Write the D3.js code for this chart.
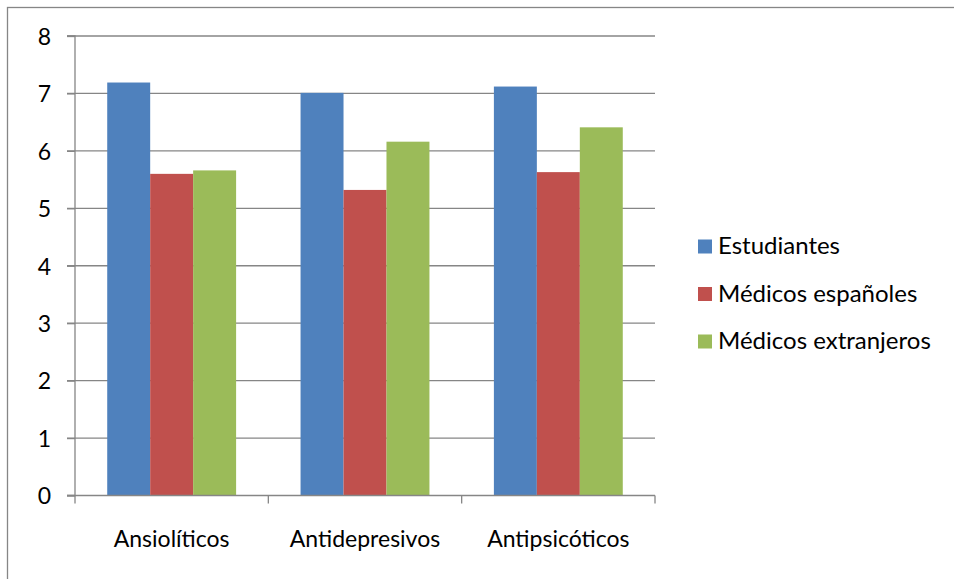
<!DOCTYPE html>
<html>
<head>
<meta charset="utf-8">
<script src="https://cdn.jsdelivr.net/npm/d3@7"></script>
<style>
  html, body { margin: 0; padding: 0; background: #fff; }
  svg { display: block; }
  text { font-family: Lato, "Open Sans", sans-serif; fill: #000; }
</style>
</head>
<body>
<svg id="chart" width="954" height="579"></svg>
<script>
// Chart data
const categories = ["Ansiolíticos", "Antidepresivos", "Antipsicóticos"];
const seriesNames = ["Estudiantes", "Médicos españoles", "Médicos extranjeros"];
const estudiantes = [7.19, 7.01, 7.12];
const medicosEspanoles = [5.60, 5.32, 5.63];
const medicosExtranjeros = [5.66, 6.16, 6.41];
const yTicks = [0, 1, 2, 3, 4, 5, 6, 7, 8];
const colors = ["#4F81BD", "#C0504D", "#9BBB59"];

const seriesValues = [estudiantes, medicosEspanoles, medicosExtranjeros];

const svg = d3.select("#chart");
const W = 954, H = 579;
const plot = { left: 75, right: 655, top: 36, bottom: 495.5 };
const gridColor = "#868686";
const axisFont = 23;
const legendFont = 24;

// Outer frame (only top/left edges fall inside the view)
svg.append("rect")
  .attr("x", 7.5).attr("y", 7.5)
  .attr("width", W + 20).attr("height", H + 20)
  .attr("fill", "#fff")
  .attr("stroke", gridColor).attr("stroke-width", 1.3);

const x0 = d3.scaleBand().domain(categories).range([plot.left, plot.right]).paddingInner(0).paddingOuter(0);
const x1 = d3.scaleBand().domain(seriesNames).range([0, x0.bandwidth()]).paddingInner(0).paddingOuter(0.75);
const y = d3.scaleLinear().domain([0, 8]).range([plot.bottom, plot.top]);

// Horizontal gridlines
svg.append("g")
  .selectAll("line")
  .data(yTicks.filter(t => t > 0))
  .join("line")
  .attr("x1", plot.left - 8).attr("x2", plot.right)
  .attr("y1", d => y(d)).attr("y2", d => y(d))
  .attr("stroke", gridColor).attr("stroke-width", 1.3);

// Bars
const groups = svg.append("g")
  .selectAll("g")
  .data(categories)
  .join("g")
  .attr("transform", d => `translate(${x0(d)},0)`);

groups.selectAll("rect")
  .data((c, ci) => seriesNames.map((s, si) => ({ s, si, v: seriesValues[si][ci] })))
  .join("rect")
  .attr("x", d => x1(d.s))
  .attr("width", x1.bandwidth())
  .attr("y", d => y(d.v))
  .attr("height", d => y(0) - y(d.v))
  .attr("fill", d => colors[d.si]);

// Y axis
const yAxis = d3.axisLeft(y).tickValues(yTicks).tickSize(8).tickFormat(d3.format("d"));
const gy = svg.append("g").attr("transform", `translate(${plot.left},0)`).call(yAxis);
gy.select(".domain").attr("stroke", gridColor).attr("stroke-width", 1.3).attr("d", `M-8,${plot.bottom}H0V${plot.top}H-8`);
gy.selectAll(".tick line").attr("stroke", gridColor).attr("stroke-width", 1.3);
gy.selectAll(".tick text")
  .attr("x", -24).attr("dy", "0.36em")
  .style("font-size", axisFont + "px")
  .style("font-family", "Lato, sans-serif");

// X axis baseline with category boundary ticks
const boundaries = categories.map(c => x0(c)).concat([plot.right]);
const gx = svg.append("g");
gx.append("line")
  .attr("x1", plot.left - 8).attr("x2", plot.right)
  .attr("y1", plot.bottom).attr("y2", plot.bottom)
  .attr("stroke", gridColor).attr("stroke-width", 1.3);
gx.selectAll("line.b")
  .data(boundaries)
  .join("line")
  .attr("class", "b")
  .attr("x1", d => d).attr("x2", d => d)
  .attr("y1", plot.bottom).attr("y2", plot.bottom + 8)
  .attr("stroke", gridColor).attr("stroke-width", 1.3);
gx.selectAll("text")
  .data(categories)
  .join("text")
  .attr("x", d => x0(d) + x0.bandwidth() / 2)
  .attr("y", 547)
  .attr("text-anchor", "middle")
  .style("font-size", axisFont + "px")
  .text(d => d);

// Legend
const legend = svg.append("g").attr("transform", "translate(698,0)");
const legendRows = legend.selectAll("g")
  .data(seriesNames)
  .join("g")
  .attr("transform", (d, i) => `translate(0,${254 + i * 47.5})`);
legendRows.append("rect")
  .attr("x", 0).attr("y", -14.5)
  .attr("width", 14).attr("height", 14)
  .attr("fill", (d, i) => colors[i]);
legendRows.append("text")
  .attr("x", 20).attr("y", 0)
  .style("font-size", legendFont + "px")
  .text(d => d);
</script>
</body>
</html>
